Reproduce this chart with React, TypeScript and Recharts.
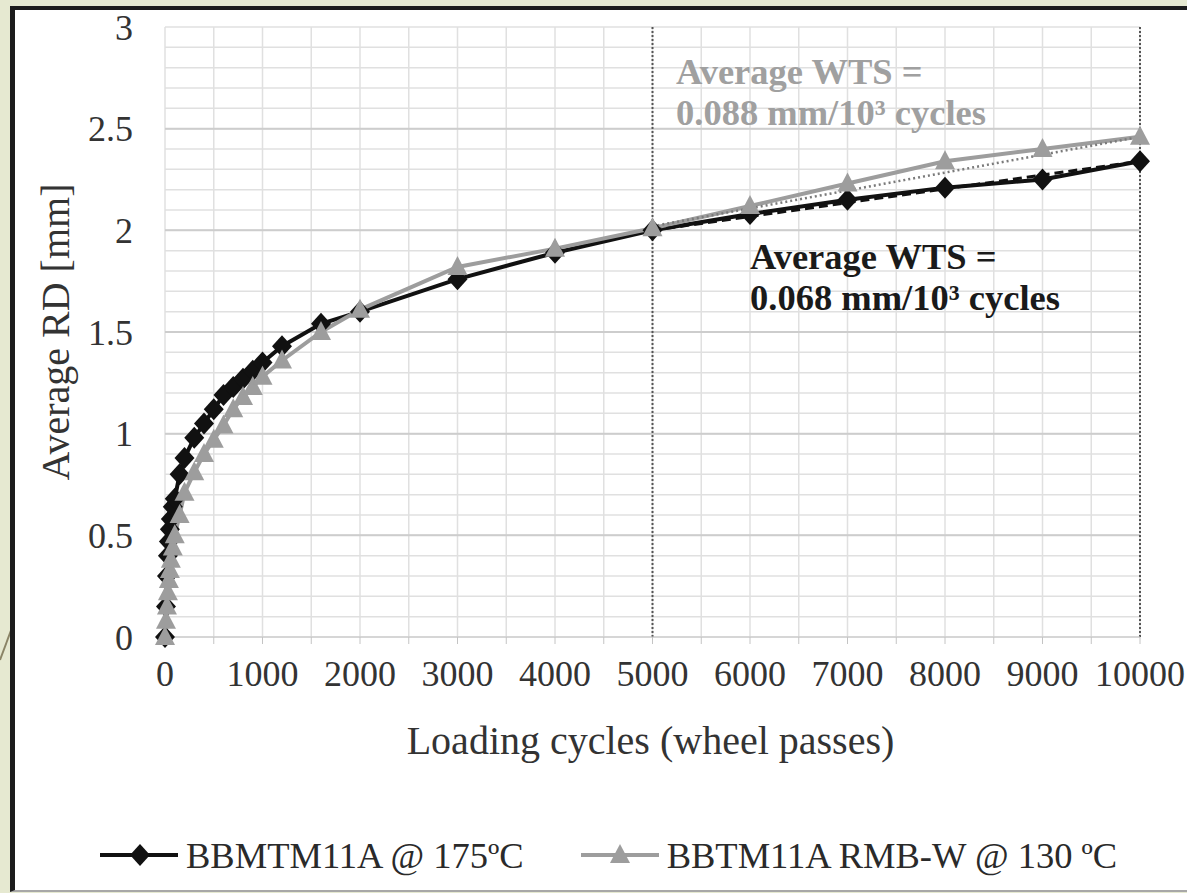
import React from 'react'
import {
  LineChart,
  Line,
  XAxis,
  YAxis,
  CartesianGrid,
  ReferenceLine,
  Label
} from 'recharts'

// loading cycles at which the rut depth was read
const cycles = [
  0, 10, 20, 30, 40, 50, 60, 80, 100, 150, 200, 300, 400, 500, 600, 700, 800, 900,
  1000, 1200, 1600, 2000, 3000, 4000, 5000, 6000, 7000, 8000, 9000, 10000
]
const bbmtm175 = [
  0.0, 0.15, 0.3, 0.4, 0.47, 0.53, 0.58, 0.64, 0.68, 0.8, 0.88, 0.98, 1.05, 1.12, 1.19,
  1.23, 1.27, 1.31, 1.35, 1.43, 1.54, 1.6, 1.76, 1.89, 2.0, 2.08, 2.15, 2.21, 2.25, 2.34
]
const bbtmRmb130 = [
  0.0, 0.08, 0.15, 0.22, 0.28, 0.33, 0.38, 0.44, 0.5, 0.6, 0.71, 0.81, 0.9, 0.97, 1.04,
  1.12, 1.18, 1.23, 1.28, 1.36, 1.5, 1.61, 1.82, 1.91, 2.01, 2.12, 2.23, 2.34, 2.4, 2.46
]

// linear trends over the last 5000 cycles (WTS)
const trendCycles = [5000, 10000]
const bbmtmTrend = [2.0, 2.34]
const rmbTrend = [2.02, 2.46]

const xTicks = [
  0, 500, 1000, 1500, 2000, 2500, 3000, 3500, 4000, 4500, 5000, 5500, 6000, 6500, 7000,
  7500, 8000, 8500, 9000, 9500, 10000
]
const yTicks = [
  0, 0.1, 0.2, 0.3, 0.4, 0.5, 0.6, 0.7, 0.8, 0.9, 1, 1.1, 1.2, 1.3, 1.4, 1.5, 1.6, 1.7,
  1.8, 1.9, 2, 2.1, 2.2, 2.3, 2.4, 2.5, 2.6, 2.7, 2.8, 2.9, 3
]
const yMajor = [0.5, 1, 1.5, 2, 2.5]
const dottedAt = [5000, 10000]

const data = cycles.map((c, i) => ({ cycles: c, bbmtm: bbmtm175[i], rmb: bbtmRmb130[i] }))
const blackTrendData = trendCycles.map((c, i) => ({ cycles: c, trend: bbmtmTrend[i] }))
const grayTrendData = trendCycles.map((c, i) => ({ cycles: c, trend: rmbTrend[i] }))

const FONT = '"Liberation Serif", "Times New Roman", serif'
const GRAY = '#9d9d9d'
const TEXT = '#333'

const Diamond = (p: any) => {
  const { cx, cy, index } = p
  if (cx == null || cy == null) return <g key={`d-${index}`} />
  return (
    <polygon
      key={`d-${index}`}
      points={`${cx},${cy - 11} ${cx + 10},${cy} ${cx},${cy + 11} ${cx - 10},${cy}`}
      fill="#111"
    />
  )
}

const Triangle = (p: any) => {
  const { cx, cy, index } = p
  if (cx == null || cy == null) return <g key={`t-${index}`} />
  return (
    <polygon
      key={`t-${index}`}
      points={`${cx},${cy - 11} ${cx + 10},${cy + 8} ${cx - 10},${cy + 8}`}
      fill={GRAY}
    />
  )
}

const fmtX = (v: number) => (v % 1000 === 0 ? String(v) : '')
const fmtY = (v: number) => (Math.round(v * 10) % 5 === 0 ? String(v) : '')

export default function App() {
  return (
    <div
      style={{
        position: 'absolute',
        left: 0,
        top: 0,
        width: 1187,
        height: 893,
        overflow: 'hidden',
        background: '#e6e9d1',
        fontFamily: FONT
      }}
    >
      <svg width={20} height={893} style={{ position: 'absolute', left: 0, top: 0 }}>
        <line x1={0} y1={660} x2={13} y2={625} stroke="#8a8466" strokeWidth={2} />
      </svg>
      <div
        style={{
          position: 'absolute',
          left: 10,
          top: 6,
          width: 1190,
          height: 880,
          background: '#fff',
          borderLeft: '5px solid #1c1c1c',
          borderTop: '4px solid #1c1c1c',
          borderBottom: '2px solid #a8a8a8'
        }}
      />

      <div style={{ position: 'absolute', left: 0, top: 0 }}>
        <LineChart
          width={1187}
          height={893}
          data={data}
          margin={{ top: 27, right: 47, left: 15, bottom: 126 }}
        >
          <CartesianGrid stroke="#e0e0e0" strokeWidth={1.5} />
          {yMajor.map(v => (
            <ReferenceLine key={`ym-${v}`} y={v} stroke="#cdcdcd" strokeWidth={2} />
          ))}
          {dottedAt.map(v => (
            <ReferenceLine
              key={`dv-${v}`}
              x={v}
              stroke="#555"
              strokeWidth={2}
              strokeDasharray="2 2"
            />
          ))}
          <XAxis
            dataKey="cycles"
            type="number"
            domain={[0, 10000]}
            ticks={xTicks}
            interval={0}
            tickFormatter={fmtX}
            height={130}
            tickSize={7}
            tickMargin={16}
            stroke="#c4c4c4"
            tick={{ fontSize: 36, fill: TEXT, fontFamily: FONT }}
          >
            <Label
              content={(p: any) => {
                const vb = p.viewBox || {}
                return (
                  <text
                    x={vb.x + vb.width / 2 - 2}
                    y={vb.y + 103}
                    textAnchor="middle"
                    dominantBaseline="central"
                    fontSize={40}
                    fill={TEXT}
                    fontFamily={FONT}
                  >
                    Loading cycles (wheel passes)
                  </text>
                )
              }}
            />
          </XAxis>
          <YAxis
            type="number"
            domain={[0, 3]}
            ticks={yTicks}
            interval={0}
            tickFormatter={fmtY}
            width={150}
            axisLine={false}
            tickLine={false}
            tickSize={0}
            tickMargin={32}
            tick={{ fontSize: 36, fill: TEXT, fontFamily: FONT }}
          >
            <Label
              content={(p: any) => {
                const vb = p.viewBox || {}
                const cx = vb.x + 40
                const cy = vb.y + vb.height / 2
                return (
                  <text
                    x={cx}
                    y={cy}
                    transform={`rotate(-90 ${cx} ${cy})`}
                    textAnchor="middle"
                    dominantBaseline="central"
                    fontSize={40}
                    fill={TEXT}
                    fontFamily={FONT}
                  >
                    Average RD [mm]
                  </text>
                )
              }}
            />
          </YAxis>
          <Line
            dataKey="bbmtm"
            stroke="#111"
            strokeWidth={4}
            dot={Diamond}
            activeDot={false}
            isAnimationActive={false}
          />
          <Line
            dataKey="rmb"
            stroke={GRAY}
            strokeWidth={4}
            dot={Triangle}
            activeDot={false}
            isAnimationActive={false}
          />
          <Line
            data={blackTrendData}
            dataKey="trend"
            stroke="#111"
            strokeWidth={3}
            strokeDasharray="9 5"
            dot={false}
            activeDot={false}
            isAnimationActive={false}
          />
          <Line
            data={grayTrendData}
            dataKey="trend"
            stroke="#7a7a7a"
            strokeWidth={2.5}
            strokeDasharray="2 3"
            dot={false}
            activeDot={false}
            isAnimationActive={false}
          />
        </LineChart>
      </div>

      {/* WTS annotations */}
      <div
        style={{
          position: 'absolute',
          left: 676,
          top: 51,
          fontSize: 36.5,
          lineHeight: '41px',
          fontWeight: 'bold',
          color: '#a0a0a0',
          whiteSpace: 'nowrap'
        }}
      >
        <div>Average WTS =</div>
        <div>0.088 mm/10³ cycles</div>
      </div>
      <div
        style={{
          position: 'absolute',
          left: 750,
          top: 236,
          fontSize: 36.5,
          lineHeight: '41px',
          fontWeight: 'bold',
          color: '#1a1a1a',
          whiteSpace: 'nowrap'
        }}
      >
        <div>Average WTS =</div>
        <div>0.068 mm/10³ cycles</div>
      </div>

      {/* legend */}
      <div
        style={{
          position: 'absolute',
          left: 100,
          top: 835,
          height: 40,
          display: 'flex',
          alignItems: 'center',
          fontSize: 36.5,
          color: '#2a2a2a',
          whiteSpace: 'nowrap'
        }}
      >
        <svg width={80} height={40}>
          <line x1={0} y1={20} x2={78} y2={20} stroke="#111" strokeWidth={4} />
          <polygon points="40,9 50,20 40,31 30,20" fill="#111" />
        </svg>
        <span style={{ marginLeft: 6 }}>BBMTM11A @ 175ºC</span>
        <svg width={80} height={40} style={{ marginLeft: 57 }}>
          <line x1={0} y1={20} x2={78} y2={20} stroke={GRAY} strokeWidth={4} />
          <polygon points="39,9 49,28 29,28" fill={GRAY} />
        </svg>
        <span style={{ marginLeft: 6 }}>BBTM11A RMB-W @ 130 ºC</span>
      </div>
    </div>
  )
}
